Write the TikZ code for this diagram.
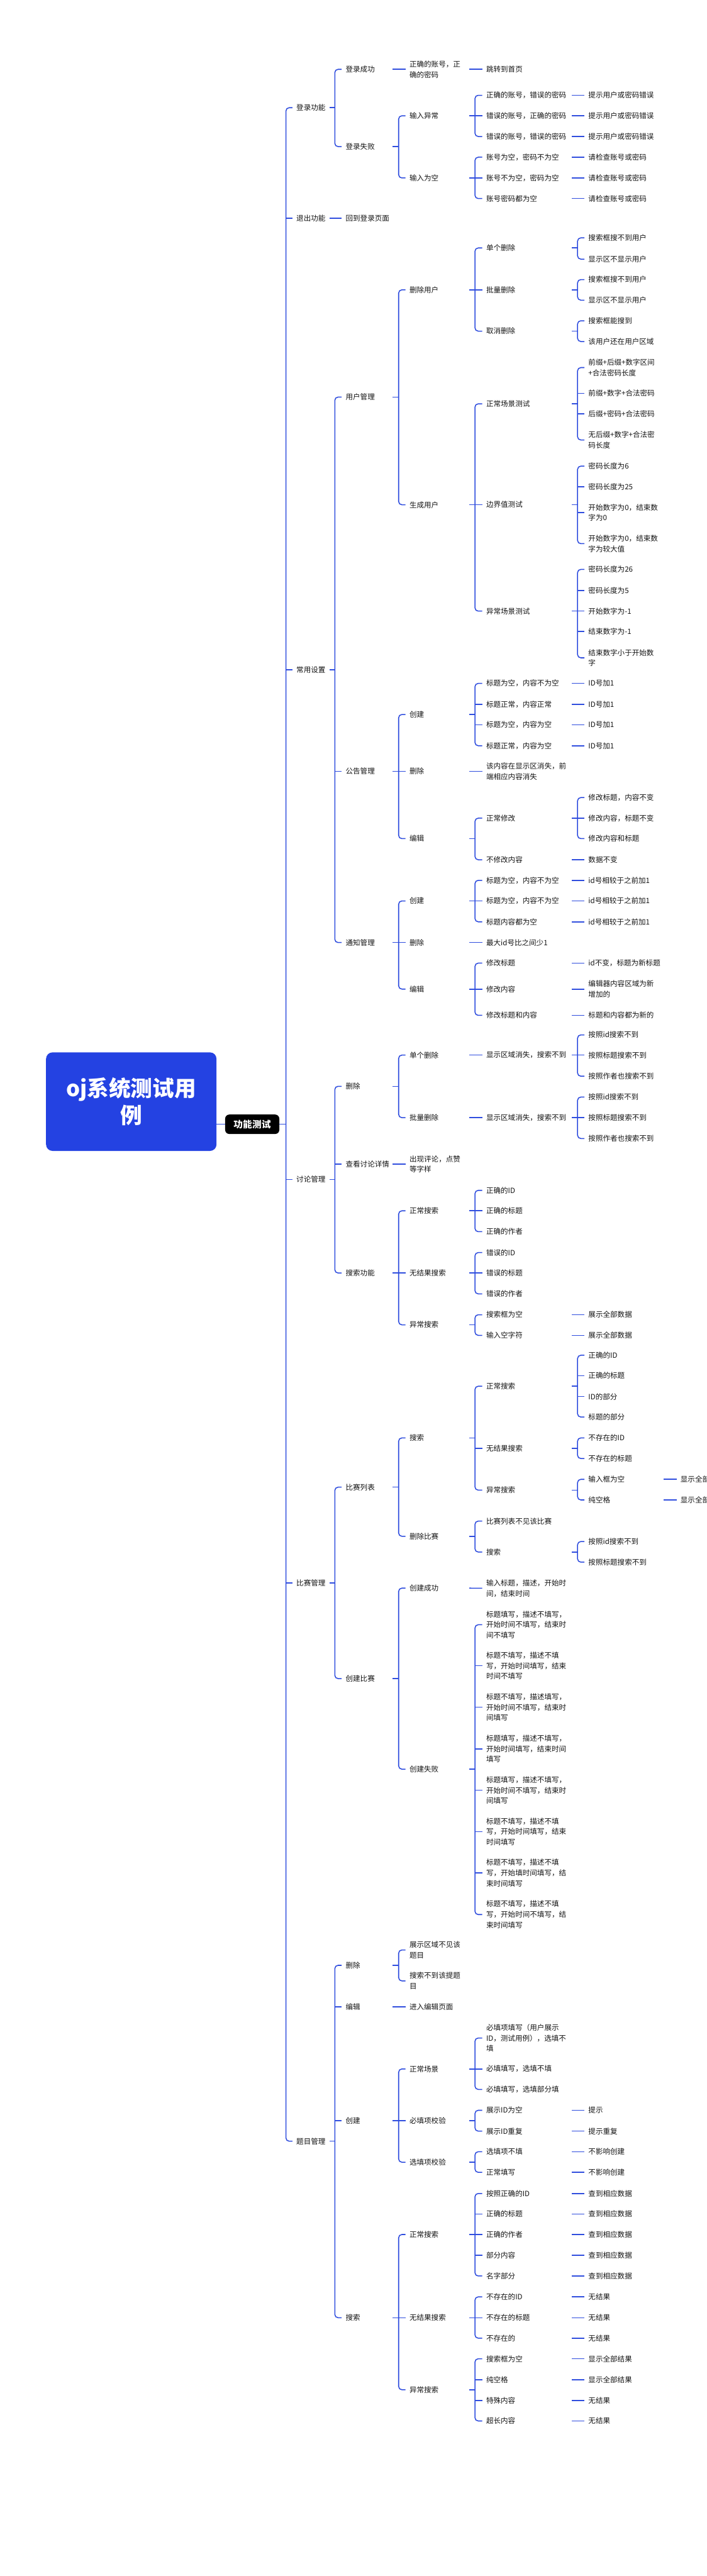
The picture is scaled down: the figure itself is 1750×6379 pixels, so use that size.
\documentclass[tikz,border=0pt]{standalone}
\usepackage{fontspec}
\setmainfont{Noto Sans CJK SC}
\definecolor{lb}{RGB}{47,77,222}
\definecolor{rb}{RGB}{36,66,226}
\definecolor{txt}{RGB}{20,20,20}
\newcommand\cOne[3]{\draw[ln] (#1.west -| #2) -- (#3.west);}
\newcommand\cFan[5]{\draw[ln] (#1.west -| #2) -- (#1.west -| #3);\draw[ln,rounded corners=4pt] (#4.west) -- (#4.west -| #3) -- (#5.west -| #3) -- (#5.west);}
\newcommand\cMid[2]{\draw[ln] (#2.west -| #1) -- (#2.west);}
\begin{document}
\begin{tikzpicture}[x=0.5pt,y=-0.5pt,
  ln/.style={draw=lb,line width=1.2pt},
  t/.style={anchor=west,inner xsep=4.75pt,inner ysep=0pt,align=left,font=\fontsize{9}{13}\selectfont,text=txt}]
\fill[white] (0,0) rectangle (1750,6379);
\clip (0,0) rectangle (1750,6379);
\coordinate (s1) at (816,0);\coordinate (s2) at (972,0);\coordinate (s3) at (1162,0);
\coordinate (s4) at (1416,0);\coordinate (s5) at (1643,0);
\coordinate (b1) at (708,0);\coordinate (b2) at (829,0);\coordinate (b3) at (987,0);
\coordinate (b4) at (1176,0);\coordinate (b5) at (1430,0);
% root
\node[fill=rb,rounded corners=8pt,text=white,font=\fontsize{27}{34}\selectfont\bfseries,align=center,minimum width=211pt,minimum height=122pt] (root) at (325,2728) {oj系统测试用\\例};
\node[fill=black,rounded corners=5pt,text=white,font=\fontsize{11.5}{14}\selectfont\bfseries,minimum width=67pt,minimum height=24pt,inner sep=0pt] (ft) at (624.5,2784) {功能测试};
\draw[ln] (root.east |- ft.west) -- (ft.west);
% L1
\node[t] (dl) at (724,266.7) {登录功能};
\node[t] (tc) at (724,540) {退出功能};
\node[t] (cy) at (724,1658.3) {常用设置};
\node[t] (tl) at (724,2920.7) {讨论管理};
\node[t] (bs) at (724,3920) {比赛管理};
\node[t] (tm) at (724,5302.3) {题目管理};
% L2
\node[t] (dl1) at (846,171.7) {登录成功};
\node[t] (dl2) at (846,363) {登录失败};
\node[t] (tc1) at (846,540) {回到登录页面};
\node[t] (cy1) at (846,983.3) {用户管理};
\node[t] (cy2) at (846,1910) {公告管理};
\node[t] (cy3) at (846,2334) {通知管理};
\node[t] (tl1) at (846,2690) {删除};
\node[t] (tl2) at (846,2882.7) {查看讨论详情};
\node[t] (tl3) at (846,3152.3) {搜索功能};
\node[t] (bs1) at (846,3682.7) {比赛列表};
\node[t] (bs2) at (846,4156.7) {创建比赛};
\node[t] (tm1) at (846,4866.7) {删除};
\node[t] (tm2) at (846,4969.3) {编辑};
\node[t] (tm3) at (846,5251.7) {创建};
\node[t] (tm4) at (846,5739.3) {搜索};
% L3
\node[t] (dl1a) at (1004,171.7) {正确的账号，正\\确的密码};
\node[t] (dl2a) at (1004,286.7) {输入异常};
\node[t] (dl2b) at (1004,440.7) {输入为空};
\node[t] (cy1a) at (1004,717.7) {删除用户};
\node[t] (cy1b) at (1004,1250) {生成用户};
\node[t] (cy2a) at (1004,1769.3) {创建};
\node[t] (cy2b) at (1004,1910) {删除};
\node[t] (cy2c) at (1004,2076.7) {编辑};
\node[t] (cy3a) at (1004,2231) {创建};
\node[t] (cy3b) at (1004,2334) {删除};
\node[t] (cy3c) at (1004,2449.3) {编辑};
\node[t] (tl1a) at (1004,2612.7) {单个删除};
\node[t] (tl1b) at (1004,2767.7) {批量删除};
\node[t] (tl2a) at (1004,2882.7) {出现评论，点赞\\等字样};
\node[t] (tl3a) at (1004,2998.3) {正常搜索};
\node[t] (tl3b) at (1004,3152.3) {无结果搜索};
\node[t] (tl3c) at (1004,3280.7) {异常搜索};
\node[t] (bs1a) at (1004,3560.7) {搜索};
\node[t] (bs1b) at (1004,3804.3) {删除比赛};
\node[t] (bs2a) at (1004,3932.7) {创建成功};
\node[t] (bs2b) at (1004,4381) {创建失败};
\node[t] (tm1a) at (1004,4828.7) {展示区域不见该\\题目};
\node[t] (tm1b) at (1004,4905.3) {搜索不到该提题\\目};
\node[t] (tm2a) at (1004,4969.3) {进入编辑页面};
\node[t] (tm3a) at (1004,5123.3) {正常场景};
\node[t] (tm3b) at (1004,5251.7) {必填项校验};
\node[t] (tm3c) at (1004,5354.3) {选填项校验};
\node[t] (tm4a) at (1004,5533.3) {正常搜索};
\node[t] (tm4b) at (1004,5739.3) {无结果搜索};
\node[t] (tm4c) at (1004,5917.7) {异常搜索};
% L4
\node[t] (dl1a1) at (1194,171.7) {跳转到首页};
\node[t] (dl2a1) at (1194,236) {正确的账号，错误的密码};
\node[t] (dl2a2) at (1194,286.7) {错误的账号，正确的密码};
\node[t] (dl2a3) at (1194,338) {错误的账号，错误的密码};
\node[t] (dl2b1) at (1194,389.3) {账号为空，密码不为空};
\node[t] (dl2b2) at (1194,440.7) {账号不为空，密码为空};
\node[t] (dl2b3) at (1194,491.7) {账号密码都为空};
\node[t] (cy1a1) at (1194,614) {单个删除};
\node[t] (cy1a2) at (1194,717.7) {批量删除};
\node[t] (cy1a3) at (1194,820) {取消删除};
\node[t] (cy1b1) at (1194,1000) {正常场景测试};
\node[t] (cy1b2) at (1194,1250) {边界值测试};
\node[t] (cy1b3) at (1194,1513.3) {异常场景测试};
\node[t] (cy2a1) at (1194,1692.3) {标题为空，内容不为空};
\node[t] (cy2a2) at (1194,1744.3) {标题正常，内容正常};
\node[t] (cy2a3) at (1194,1795) {标题为空，内容为空};
\node[t] (cy2a4) at (1194,1846.7) {标题正常，内容为空};
\node[t] (cy2b1) at (1194,1910) {该内容在显示区消失，前\\端相应内容消失};
\node[t] (cy2c1) at (1194,2026) {正常修改};
\node[t] (cy2c2) at (1194,2129) {不修改内容};
\node[t] (cy3a1) at (1194,2180) {标题为空，内容不为空};
\node[t] (cy3a2) at (1194,2231) {标题为空，内容不为空};
\node[t] (cy3a3) at (1194,2282.7) {标题内容都为空};
\node[t] (cy3b1) at (1194,2334) {最大id号比之间少1};
\node[t] (cy3c1) at (1194,2385) {修改标题};
\node[t] (cy3c2) at (1194,2449.3) {修改内容};
\node[t] (cy3c3) at (1194,2514.3) {修改标题和内容};
\node[t] (tl1a1) at (1194,2612.7) {显示区域消失，搜索不到};
\node[t] (tl1b1) at (1194,2767.7) {显示区域消失，搜索不到};
\node[t] (tl3a1) at (1194,2947.7) {正确的ID};
\node[t] (tl3a2) at (1194,2998.3) {正确的标题};
\node[t] (tl3a3) at (1194,3050) {正确的作者};
\node[t] (tl3b1) at (1194,3101.7) {错误的ID};
\node[t] (tl3b2) at (1194,3152.3) {错误的标题};
\node[t] (tl3b3) at (1194,3204) {错误的作者};
\node[t] (tl3c1) at (1194,3255.7) {搜索框为空};
\node[t] (tl3c2) at (1194,3306.7) {输入空字符};
\node[t] (bs1a1) at (1194,3432.7) {正常搜索};
\node[t] (bs1a2) at (1194,3586.7) {无结果搜索};
\node[t] (bs1a3) at (1194,3690) {异常搜索};
\node[t] (bs1b1) at (1194,3766.7) {比赛列表不见该比赛};
\node[t] (bs1b2) at (1194,3843.3) {搜索};
\node[t] (bs2a1) at (1194,3933) {输入标题，描述，开始时\\间，结束时间};
\node[t] (bs2b1) at (1194,4023.3) {标题填写，描述不填写，\\开始时间不填写，结束时\\间不填写};
\node[t] (bs2b2) at (1194,4125) {标题不填写，描述不填\\写，开始时间填写，结束\\时间不填写};
\node[t] (bs2b3) at (1194,4227.7) {标题不填写，描述填写，\\开始时间不填写，结束时\\间填写};
\node[t] (bs2b4) at (1194,4330.7) {标题填写，描述不填写，\\开始时间填写，结束时间\\填写};
\node[t] (bs2b5) at (1194,4433.3) {标题填写，描述不填写，\\开始时间不填写，结束时\\间填写};
\node[t] (bs2b6) at (1194,4535.7) {标题不填写，描述不填\\写，开始时间填写，结束\\时间填写};
\node[t] (bs2b7) at (1194,4638) {标题不填写，描述不填\\写，开始填时间填写，结\\束时间填写};
\node[t] (bs2b8) at (1194,4741) {标题不填写，描述不填\\写，开始时间不填写，结\\束时间填写};
\node[t] (tm3a1) at (1194,5046.7) {必填项填写（用户展示\\ID，测试用例），选填不\\填};
\node[t] (tm3a2) at (1194,5123.3) {必填填写，选填不填};
\node[t] (tm3a3) at (1194,5174) {必填填写，选填部分填};
\node[t] (tm3b1) at (1194,5225.7) {展示ID为空};
\node[t] (tm3b2) at (1194,5277.3) {展示ID重复};
\node[t] (tm3c1) at (1194,5328.3) {选填项不填};
\node[t] (tm3c2) at (1194,5379.3) {正常填写};
\node[t] (tm4a1) at (1194,5431.7) {按照正确的ID};
\node[t] (tm4a2) at (1194,5482.7) {正确的标题};
\node[t] (tm4a3) at (1194,5533.3) {正确的作者};
\node[t] (tm4a4) at (1194,5585) {部分内容};
\node[t] (tm4a5) at (1194,5636) {名字部分};
\node[t] (tm4b1) at (1194,5687.7) {不存在的ID};
\node[t] (tm4b2) at (1194,5739.3) {不存在的标题};
\node[t] (tm4b3) at (1194,5790) {不存在的};
\node[t] (tm4c1) at (1194,5841) {搜索框为空};
\node[t] (tm4c2) at (1194,5892.7) {纯空格};
\node[t] (tm4c3) at (1194,5944) {特殊内容};
\node[t] (tm4c4) at (1194,5995) {超长内容};
% L5
\node[t] (dl2a1r) at (1447,236) {提示用户或密码错误};
\node[t] (dl2a2r) at (1447,286.7) {提示用户或密码错误};
\node[t] (dl2a3r) at (1447,338) {提示用户或密码错误};
\node[t] (dl2b1r) at (1447,389.3) {请检查账号或密码};
\node[t] (dl2b2r) at (1447,440.7) {请检查账号或密码};
\node[t] (dl2b3r) at (1447,491.7) {请检查账号或密码};
\node[t] (cy1a1a) at (1447,589) {搜索框搜不到用户};
\node[t] (cy1a1b) at (1447,641.7) {显示区不显示用户};
\node[t] (cy1a2a) at (1447,692.3) {搜索框搜不到用户};
\node[t] (cy1a2b) at (1447,743.3) {显示区不显示用户};
\node[t] (cy1a3a) at (1447,794.3) {搜索框能搜到};
\node[t] (cy1a3b) at (1447,845.7) {该用户还在用户区域};
\node[t] (cy1b1a) at (1447,910.3) {前缀+后缀+数字区间\\+合法密码长度};
\node[t] (cy1b1b) at (1447,974) {前缀+数字+合法密码};
\node[t] (cy1b1c) at (1447,1025) {后缀+密码+合法密码};
\node[t] (cy1b1d) at (1447,1089.5) {无后缀+数字+合法密\\码长度};
\node[t] (cy1b2a) at (1447,1154.3) {密码长度为6};
\node[t] (cy1b2b) at (1447,1205.7) {密码长度为25};
\node[t] (cy1b2c) at (1447,1269.5) {开始数字为0，结束数\\字为0};
\node[t] (cy1b2d) at (1447,1346.3) {开始数字为0，结束数\\字为较大值};
\node[t] (cy1b3a) at (1447,1410) {密码长度为26};
\node[t] (cy1b3b) at (1447,1462.3) {密码长度为5};
\node[t] (cy1b3c) at (1447,1513.3) {开始数字为-1};
\node[t] (cy1b3d) at (1447,1564) {结束数字为-1};
\node[t] (cy1b3e) at (1447,1629) {结束数字小于开始数\\字};
\node[t] (cy2a1r) at (1447,1692.3) {ID号加1};
\node[t] (cy2a2r) at (1447,1744.3) {ID号加1};
\node[t] (cy2a3r) at (1447,1795) {ID号加1};
\node[t] (cy2a4r) at (1447,1846.7) {ID号加1};
\node[t] (cy2c1a) at (1447,1975) {修改标题，内容不变};
\node[t] (cy2c1b) at (1447,2026) {修改内容，标题不变};
\node[t] (cy2c1c) at (1447,2076.7) {修改内容和标题};
\node[t] (cy2c2r) at (1447,2129) {数据不变};
\node[t] (cy3a1r) at (1447,2180) {id号相较于之前加1};
\node[t] (cy3a2r) at (1447,2231) {id号相较于之前加1};
\node[t] (cy3a3r) at (1447,2282.7) {id号相较于之前加1};
\node[t] (cy3c1r) at (1447,2385) {id不变，标题为新标题};
\node[t] (cy3c2r) at (1447,2449.3) {编辑器内容区域为新\\增加的};
\node[t] (cy3c3r) at (1447,2514.3) {标题和内容都为新的};
\node[t] (tl1a1a) at (1447,2562.7) {按照id搜索不到};
\node[t] (tl1a1b) at (1447,2612.7) {按照标题搜索不到};
\node[t] (tl1a1c) at (1447,2665) {按照作者也搜索不到};
\node[t] (tl1b1a) at (1447,2716.7) {按照id搜索不到};
\node[t] (tl1b1b) at (1447,2767.7) {按照标题搜索不到};
\node[t] (tl1b1c) at (1447,2819.3) {按照作者也搜索不到};
\node[t] (tl3c1r) at (1447,3255.7) {展示全部数据};
\node[t] (tl3c2r) at (1447,3306.7) {展示全部数据};
\node[t] (bs1a1a) at (1447,3356) {正确的ID};
\node[t] (bs1a1b) at (1447,3406.7) {正确的标题};
\node[t] (bs1a1c) at (1447,3458.3) {ID的部分};
\node[t] (bs1a1d) at (1447,3509) {标题的部分};
\node[t] (bs1a2a) at (1447,3560.7) {不存在的ID};
\node[t] (bs1a2b) at (1447,3611.7) {不存在的标题};
\node[t] (bs1a3a) at (1447,3663.3) {输入框为空};
\node[t] (bs1a3b) at (1447,3714.3) {纯空格};
\node[t] (bs1b2a) at (1447,3817.3) {按照id搜索不到};
\node[t] (bs1b2b) at (1447,3868.3) {按照标题搜索不到};
\node[t] (tm3b1r) at (1447,5225.7) {提示};
\node[t] (tm3b2r) at (1447,5277.3) {提示重复};
\node[t] (tm3c1r) at (1447,5328.3) {不影响创建};
\node[t] (tm3c2r) at (1447,5379.3) {不影响创建};
\node[t] (tm4a1r) at (1447,5431.7) {查到相应数据};
\node[t] (tm4a2r) at (1447,5482.7) {查到相应数据};
\node[t] (tm4a3r) at (1447,5533.3) {查到相应数据};
\node[t] (tm4a4r) at (1447,5585) {查到相应数据};
\node[t] (tm4a5r) at (1447,5636) {查到相应数据};
\node[t] (tm4b1r) at (1447,5687.7) {无结果};
\node[t] (tm4b2r) at (1447,5739.3) {无结果};
\node[t] (tm4b3r) at (1447,5790) {无结果};
\node[t] (tm4c1r) at (1447,5841) {显示全部结果};
\node[t] (tm4c2r) at (1447,5892.7) {显示全部结果};
\node[t] (tm4c3r) at (1447,5944) {无结果};
\node[t] (tm4c4r) at (1447,5995) {无结果};
% L6
\node[t] (bs1a3ar) at (1675,3663.3) {显示全部};
\node[t] (bs1a3br) at (1675,3714.3) {显示全部};
% connectors L0-L1
\draw[ln] (ft.east) -- (ft.east -| b1);
\draw[ln,rounded corners=4pt] (dl.west) -- (dl.west -| b1) -- (tm.west -| b1) -- (tm.west);
\cMid{b1}{tc}\cMid{b1}{cy}\cMid{b1}{tl}\cMid{b1}{bs}
% L1-L2
\cFan{dl}{s1}{b2}{dl1}{dl2}
\cOne{tc}{s1}{tc1}
\cFan{cy}{s1}{b2}{cy1}{cy3}\cMid{b2}{cy2}
\cFan{tl}{s1}{b2}{tl1}{tl3}\cMid{b2}{tl2}
\cFan{bs}{s1}{b2}{bs1}{bs2}
\cFan{tm}{s1}{b2}{tm1}{tm4}\cMid{b2}{tm2}\cMid{b2}{tm3}
% L2-L3
\cOne{dl1}{s2}{dl1a}
\cFan{dl2}{s2}{b3}{dl2a}{dl2b}
\cFan{cy1}{s2}{b3}{cy1a}{cy1b}
\cFan{cy2}{s2}{b3}{cy2a}{cy2c}\cMid{b3}{cy2b}
\cFan{cy3}{s2}{b3}{cy3a}{cy3c}\cMid{b3}{cy3b}
\cFan{tl1}{s2}{b3}{tl1a}{tl1b}
\cOne{tl2}{s2}{tl2a}
\cFan{tl3}{s2}{b3}{tl3a}{tl3c}\cMid{b3}{tl3b}
\cFan{bs1}{s2}{b3}{bs1a}{bs1b}
\cFan{bs2}{s2}{b3}{bs2a}{bs2b}
\cFan{tm1}{s2}{b3}{tm1a}{tm1b}
\cOne{tm2}{s2}{tm2a}
\cFan{tm3}{s2}{b3}{tm3a}{tm3c}\cMid{b3}{tm3b}
\cFan{tm4}{s2}{b3}{tm4a}{tm4c}\cMid{b3}{tm4b}
% L3-L4
\cOne{dl1a}{s3}{dl1a1}
\cFan{dl2a}{s3}{b4}{dl2a1}{dl2a3}\cMid{b4}{dl2a2}
\cFan{dl2b}{s3}{b4}{dl2b1}{dl2b3}\cMid{b4}{dl2b2}
\cFan{cy1a}{s3}{b4}{cy1a1}{cy1a3}\cMid{b4}{cy1a2}
\cFan{cy1b}{s3}{b4}{cy1b1}{cy1b3}\cMid{b4}{cy1b2}
\cFan{cy2a}{s3}{b4}{cy2a1}{cy2a4}\cMid{b4}{cy2a2}\cMid{b4}{cy2a3}
\cOne{cy2b}{s3}{cy2b1}
\cFan{cy2c}{s3}{b4}{cy2c1}{cy2c2}
\cFan{cy3a}{s3}{b4}{cy3a1}{cy3a3}\cMid{b4}{cy3a2}
\cOne{cy3b}{s3}{cy3b1}
\cFan{cy3c}{s3}{b4}{cy3c1}{cy3c3}\cMid{b4}{cy3c2}
\cOne{tl1a}{s3}{tl1a1}
\cOne{tl1b}{s3}{tl1b1}
\cFan{tl3a}{s3}{b4}{tl3a1}{tl3a3}\cMid{b4}{tl3a2}
\cFan{tl3b}{s3}{b4}{tl3b1}{tl3b3}\cMid{b4}{tl3b2}
\cFan{tl3c}{s3}{b4}{tl3c1}{tl3c2}
\cFan{bs1a}{s3}{b4}{bs1a1}{bs1a3}\cMid{b4}{bs1a2}
\cFan{bs1b}{s3}{b4}{bs1b1}{bs1b2}
\cOne{bs2a}{s3}{bs2a1}
\cFan{bs2b}{s3}{b4}{bs2b1}{bs2b8}\cMid{b4}{bs2b2}\cMid{b4}{bs2b3}\cMid{b4}{bs2b4}\cMid{b4}{bs2b5}\cMid{b4}{bs2b6}\cMid{b4}{bs2b7}
\cFan{tm3a}{s3}{b4}{tm3a1}{tm3a3}\cMid{b4}{tm3a2}
\cFan{tm3b}{s3}{b4}{tm3b1}{tm3b2}
\cFan{tm3c}{s3}{b4}{tm3c1}{tm3c2}
\cFan{tm4a}{s3}{b4}{tm4a1}{tm4a5}\cMid{b4}{tm4a2}\cMid{b4}{tm4a3}\cMid{b4}{tm4a4}
\cFan{tm4b}{s3}{b4}{tm4b1}{tm4b3}\cMid{b4}{tm4b2}
\cFan{tm4c}{s3}{b4}{tm4c1}{tm4c4}\cMid{b4}{tm4c2}\cMid{b4}{tm4c3}
% L4-L5
\cOne{dl2a1}{s4}{dl2a1r}\cOne{dl2a2}{s4}{dl2a2r}\cOne{dl2a3}{s4}{dl2a3r}
\cOne{dl2b1}{s4}{dl2b1r}\cOne{dl2b2}{s4}{dl2b2r}\cOne{dl2b3}{s4}{dl2b3r}
\cFan{cy1a1}{s4}{b5}{cy1a1a}{cy1a1b}
\cFan{cy1a2}{s4}{b5}{cy1a2a}{cy1a2b}
\cFan{cy1a3}{s4}{b5}{cy1a3a}{cy1a3b}
\cFan{cy1b1}{s4}{b5}{cy1b1a}{cy1b1d}\cMid{b5}{cy1b1b}\cMid{b5}{cy1b1c}
\cFan{cy1b2}{s4}{b5}{cy1b2a}{cy1b2d}\cMid{b5}{cy1b2b}\cMid{b5}{cy1b2c}
\cFan{cy1b3}{s4}{b5}{cy1b3a}{cy1b3e}\cMid{b5}{cy1b3b}\cMid{b5}{cy1b3c}\cMid{b5}{cy1b3d}
\cOne{cy2a1}{s4}{cy2a1r}\cOne{cy2a2}{s4}{cy2a2r}\cOne{cy2a3}{s4}{cy2a3r}\cOne{cy2a4}{s4}{cy2a4r}
\cFan{cy2c1}{s4}{b5}{cy2c1a}{cy2c1c}\cMid{b5}{cy2c1b}
\cOne{cy2c2}{s4}{cy2c2r}
\cOne{cy3a1}{s4}{cy3a1r}\cOne{cy3a2}{s4}{cy3a2r}\cOne{cy3a3}{s4}{cy3a3r}
\cOne{cy3c1}{s4}{cy3c1r}\cOne{cy3c2}{s4}{cy3c2r}\cOne{cy3c3}{s4}{cy3c3r}
\cFan{tl1a1}{s4}{b5}{tl1a1a}{tl1a1c}\cMid{b5}{tl1a1b}
\cFan{tl1b1}{s4}{b5}{tl1b1a}{tl1b1c}\cMid{b5}{tl1b1b}
\cOne{tl3c1}{s4}{tl3c1r}\cOne{tl3c2}{s4}{tl3c2r}
\cFan{bs1a1}{s4}{b5}{bs1a1a}{bs1a1d}\cMid{b5}{bs1a1b}\cMid{b5}{bs1a1c}
\cFan{bs1a2}{s4}{b5}{bs1a2a}{bs1a2b}
\cFan{bs1a3}{s4}{b5}{bs1a3a}{bs1a3b}
\cFan{bs1b2}{s4}{b5}{bs1b2a}{bs1b2b}
\cOne{tm3b1}{s4}{tm3b1r}\cOne{tm3b2}{s4}{tm3b2r}
\cOne{tm3c1}{s4}{tm3c1r}\cOne{tm3c2}{s4}{tm3c2r}
\cOne{tm4a1}{s4}{tm4a1r}\cOne{tm4a2}{s4}{tm4a2r}\cOne{tm4a3}{s4}{tm4a3r}\cOne{tm4a4}{s4}{tm4a4r}\cOne{tm4a5}{s4}{tm4a5r}
\cOne{tm4b1}{s4}{tm4b1r}\cOne{tm4b2}{s4}{tm4b2r}\cOne{tm4b3}{s4}{tm4b3r}
\cOne{tm4c1}{s4}{tm4c1r}\cOne{tm4c2}{s4}{tm4c2r}\cOne{tm4c3}{s4}{tm4c3r}\cOne{tm4c4}{s4}{tm4c4r}
% L5-L6
\cOne{bs1a3a}{s5}{bs1a3ar}\cOne{bs1a3b}{s5}{bs1a3br}
\end{tikzpicture}
\end{document}
